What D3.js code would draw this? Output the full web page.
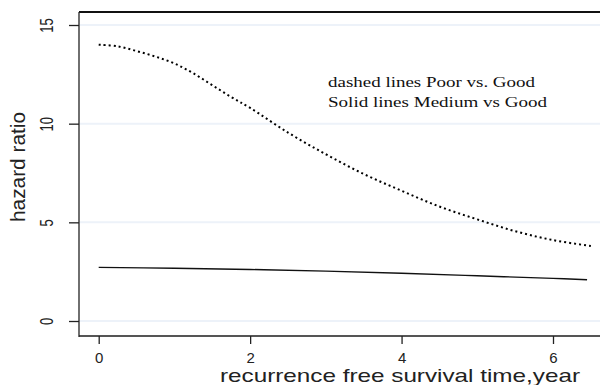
<html>
    <head>
        <meta charset="utf-8">
        <title>hazard ratio</title>
        <script src="https://d3js.org/d3.v7.min.js"></script>
        <style>
            body { margin: 0; background: #fff; }
            text { font-family: "Liberation Sans", Arial, sans-serif; fill: #222; }
            .note { font-family: "Liberation Serif", "Times New Roman", serif; fill: #111; }
        </style>
    </head>
    <body>
        <div id="chart"></div>
        <script>
            // Données
            const timePoor = [0, 0.25, 0.5, 0.75, 1, 1.25, 1.5, 1.75, 2, 2.5, 3, 3.5, 4, 4.5, 5, 5.5, 6, 6.5];
            const hrPoor = [14.0, 13.92, 13.68, 13.4, 13.05, 12.55, 11.95, 11.35, 10.8, 9.55, 8.45, 7.45, 6.6, 5.8, 5.15, 4.55, 4.1, 3.8];
            const timeMedium = [0, 1, 2, 3, 4, 5, 6, 6.45];
            const hrMedium = [2.72, 2.67, 2.61, 2.53, 2.42, 2.29, 2.16, 2.09];
            const xTicks = [0, 2, 4, 6];
            const yTicks = [0, 5, 10, 15];
            const notes = ["dashed lines Poor vs. Good", "Solid lines Medium vs Good"];

            const W = 600, H = 385;
            const frame = { left: 79, top: 12, bottom: 336 };

            const svg = d3.select("#chart").append("svg")
                .attr("width", W)
                .attr("height", H);

            // Échelles
            const x = d3.scaleLinear().domain([0, 6]).range([98.7, 553]);
            const y = d3.scaleLinear().domain([0, 15]).range([321, 25]);

            // Lignes de grille
            svg.selectAll(".grid")
                .data(yTicks)
                .enter().append("line")
                .attr("x1", frame.left + 1).attr("x2", W)
                .attr("y1", d => y(d)).attr("y2", d => y(d))
                .attr("stroke", "#edf2f9")
                .attr("stroke-width", 2);

            // Cadre
            svg.append("line").attr("x1", frame.left).attr("x2", W)
                .attr("y1", frame.top).attr("y2", frame.top)
                .attr("stroke", "#111").attr("stroke-width", 2);
            svg.append("line").attr("x1", frame.left).attr("x2", W)
                .attr("y1", frame.bottom).attr("y2", frame.bottom)
                .attr("stroke", "#555").attr("stroke-width", 2);
            svg.append("line").attr("x1", frame.left).attr("x2", frame.left)
                .attr("y1", frame.top).attr("y2", frame.bottom + 1)
                .attr("stroke", "#222").attr("stroke-width", 1.3);

            // Axe y
            const yAxis = d3.axisLeft(y).tickValues(yTicks).tickSize(10).tickFormat(d3.format("d"));
            const gy = svg.append("g")
                .attr("transform", `translate(${frame.left},0)`)
                .call(yAxis);
            gy.select(".domain").remove();
            gy.selectAll(".tick line").attr("stroke", "#222").attr("stroke-width", 1.3);
            gy.selectAll(".tick text")
                .attr("x", null).attr("dy", null)
                .attr("transform", "translate(-26,0) rotate(-90) scale(1,1.35)")
                .attr("text-anchor", "middle")
                .style("font-size", "13px")
                .style("font-family", "Liberation Sans, Arial, sans-serif")
                .attr("fill", "#222");

            // Axe x
            const xAxis = d3.axisBottom(x).tickValues(xTicks).tickSize(8).tickFormat(d3.format("d"));
            const gx = svg.append("g")
                .attr("transform", `translate(0,${frame.bottom})`)
                .call(xAxis);
            gx.select(".domain").remove();
            gx.selectAll(".tick line").attr("stroke", "#222").attr("stroke-width", 1.3);
            gx.selectAll(".tick text")
                .attr("y", 27).attr("dy", null)
                .style("font-size", "15px")
                .style("font-family", "Liberation Sans, Arial, sans-serif")
                .attr("fill", "#222");

            // Titres des axes
            svg.append("text")
                .attr("transform", "translate(25,167) rotate(-90)")
                .attr("text-anchor", "middle")
                .style("font-size", "20px")
                .attr("textLength", 110)
                .attr("lengthAdjust", "spacingAndGlyphs")
                .text("hazard ratio");

            svg.append("text")
                .attr("x", 220).attr("y", 382)
                .style("font-size", "19px")
                .attr("textLength", 360)
                .attr("lengthAdjust", "spacingAndGlyphs")
                .text("recurrence free survival time,year");

            // Courbes
            const line = d3.line()
                .x(d => x(d[0]))
                .y(d => y(d[1]))
                .curve(d3.curveCatmullRom);

            svg.append("path")
                .datum(timePoor.map((t, i) => [t, hrPoor[i]]))
                .attr("d", line)
                .attr("fill", "none")
                .attr("stroke", "#000")
                .attr("stroke-width", 2)
                .attr("stroke-dasharray", "2,3");

            svg.append("path")
                .datum(timeMedium.map((t, i) => [t, hrMedium[i]]))
                .attr("d", line)
                .attr("fill", "none")
                .attr("stroke", "#111")
                .attr("stroke-width", 1.4);

            // Annotations
            const noteLengths = [207, 219];
            svg.selectAll(".note")
                .data(notes)
                .enter().append("text")
                .attr("class", "note")
                .attr("x", 328)
                .attr("y", (d, i) => 87 + i * 20)
                .style("font-size", "14px")
                .attr("textLength", (d, i) => noteLengths[i])
                .attr("lengthAdjust", "spacingAndGlyphs")
                .text(d => d);
        </script>
    </body>
</html>
